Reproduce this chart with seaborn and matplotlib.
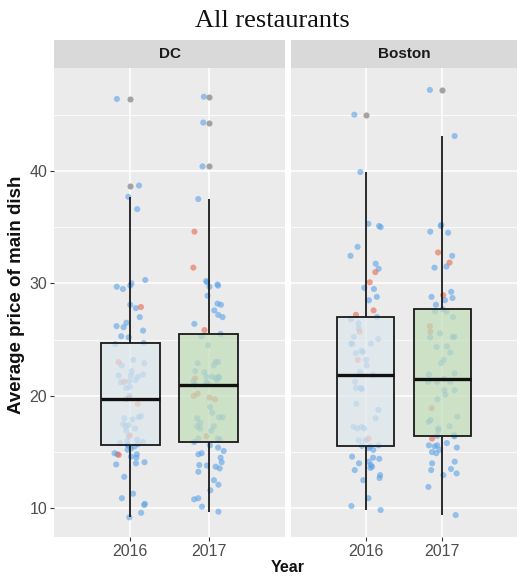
import numpy as np
import pandas as pd
import matplotlib
matplotlib.use("Agg")
import matplotlib.pyplot as plt
from matplotlib.ticker import FixedLocator
import seaborn as sns

# ---------------- data ----------------
cities = ["DC", "Boston"]
years = ["2016", "2017"]
title = "All restaurants"
y_label = "Average price of main dish"
x_label = "Year"
y_ticks = [10, 20, 30, 40]
y_minor = [15, 25, 35, 45]

dc_2016_blue = [46.4, 38.7, 37.7, 36.6, 30.3, 30.0, 29.8, 29.7, 29.5, 28.1, 27.8, 27.0,
                26.5, 26.2, 26.1, 25.8, 25.3, 25.2, 24.7, 24.6, 23.2, 22.9, 22.7, 22.2,
                21.9, 21.8, 21.8, 21.7, 21.4, 21.3, 21.2, 20.8, 20.7, 20.0, 19.7, 18.2,
                18.1, 18.0, 17.9, 17.5, 17.4, 17.3, 17.1, 16.9, 16.4, 16.1, 16.0, 15.9,
                15.8, 15.7, 15.65, 15.6, 15.5, 15.3, 15.2, 14.9, 14.8, 14.8, 14.6, 14.5,
                14.1, 14.0, 13.9, 12.8, 11.3, 10.9, 10.4, 10.3, 9.6, 9.2]
dc_2016_red = [27.9, 23.0, 21.25, 19.8, 19.3, 16.5, 14.75]

dc_2017_blue = [46.6, 44.3, 40.4, 37.5, 30.2, 30.1, 29.9, 29.8, 29.7, 28.9, 28.2, 28.1,
                27.6, 27.2, 27.0, 26.4, 25.5, 25.3, 24.5, 23.0, 23.0, 22.9, 22.7, 22.2,
                22.1, 21.7, 21.7, 21.7, 21.6, 21.6, 21.4, 21.3, 21.2, 21.1, 21.0, 19.0,
                18.5, 18.1, 18.1, 18.0, 17.6, 17.3, 17.3, 17.1, 16.9, 16.2, 16.2, 16.1,
                15.9, 15.6, 15.4, 15.1, 14.9, 14.8, 14.5, 14.1, 13.85, 13.8, 13.7, 13.55,
                13.25, 12.5, 12.1, 11.6, 10.9, 10.8, 10.15, 9.7]
dc_2017_red = [34.6, 31.4, 25.85, 21.55, 20.2, 20.0, 19.85, 19.7, 16.4]

boston_2016_blue = [45.0, 39.9, 35.3, 35.1, 35.0, 33.25, 32.45, 31.75, 31.3, 29.6, 29.5,
                    28.8, 28.5, 27.0, 26.8, 26.45, 26.0, 25.25, 25.05, 24.65, 24.65, 24.6,
                    24.0, 23.9, 23.8, 23.2, 22.7, 22.1, 21.85, 21.25, 20.7, 20.7, 20.6,
                    19.3, 18.75, 18.0, 17.25, 17.25, 17.1, 17.1, 16.05, 16.05, 15.6, 15.55,
                    15.5, 15.35, 15.2, 14.6, 14.5, 14.4, 14.15, 14.0, 13.85, 13.7, 13.6,
                    13.4, 12.95, 12.7, 12.5, 10.9, 10.2, 9.85]
boston_2016_red = [31.0, 30.1, 27.6, 27.2, 25.7, 23.2, 16.2]

boston_2017_blue = [47.2, 43.1, 35.2, 35.1, 34.6, 34.5, 32.45, 31.5, 31.4, 29.25, 28.8,
                    28.7, 28.5, 28.1, 27.7, 27.5, 27.5, 27.0, 25.55, 25.25, 25.25, 25.2,
                    24.4, 24.35, 23.85, 23.2, 22.9, 22.0, 21.9, 21.5, 21.25, 21.25, 21.25,
                    20.5, 20.5, 20.1, 19.7, 18.15, 17.85, 17.7, 17.3, 17.1, 16.95, 16.5,
                    16.45, 16.4, 15.8, 15.6, 15.6, 15.5, 15.4, 15.2, 15.0, 14.9, 14.15,
                    14.0, 13.5, 13.4, 13.1, 12.95, 11.9, 9.4]
boston_2017_red = [32.75, 31.85, 28.95, 26.2, 25.7, 18.9, 16.2]

groups = {
    ("DC", "2016"): (dc_2016_blue, dc_2016_red),
    ("DC", "2017"): (dc_2017_blue, dc_2017_red),
    ("Boston", "2016"): (boston_2016_blue, boston_2016_red),
    ("Boston", "2017"): (boston_2017_blue, boston_2017_red),
}

rows = []
for (city, year), (blue, red) in groups.items():
    rows += [(city, year, v, "blue") for v in blue]
    rows += [(city, year, v, "red") for v in red]
df = pd.DataFrame(rows, columns=["city", "year", "price", "kind"])

# ---------------- styling ----------------
plt.rcParams["font.family"] = ["Liberation Sans", "DejaVu Sans"]

W, H = 519, 584
fig = plt.figure(figsize=(W / 100, H / 100), dpi=100)
fig.patch.set_facecolor("white")


def frac(x0, y0, x1, y1):
    return [x0 / W, 1 - y1 / H, (x1 - x0) / W, (y1 - y0) / H]


panels = {"DC": (54, 285), "Boston": (291, 517)}
top, bottom, strip_top = 68, 537, 40

point_colors = {"blue": "#5AA2E6", "red": "#E8684E"}
box_fills = {"2016": "#DCE8EE", "2017": "#BDE3B3"}

np.random.seed(7)
for i, city in enumerate(cities):
    x0, x1 = panels[city]
    ax = fig.add_axes(frac(x0, top, x1, bottom))
    sub = df[df.city == city]
    sns.stripplot(data=sub, x="year", y="price", hue="kind", order=years,
                  hue_order=["blue", "red"], palette=point_colors, jitter=0.2,
                  size=4.4, alpha=0.6, linewidth=0, legend=False, ax=ax, zorder=1)
    sns.boxplot(data=sub, x="year", y="price", hue="year", order=years,
                hue_order=years, palette=box_fills, dodge=False, width=0.75,
                linewidth=1.3, linecolor="#1a1a1a", whis=1.5, fliersize=4.4,
                flierprops=dict(marker="o", markerfacecolor="#9a9a9a",
                                markeredgecolor="none", alpha=0.9),
                medianprops=dict(color="#111111", linewidth=2.4),
                capprops=dict(linewidth=0), legend=False, ax=ax)
    for p in ax.patches:
        fc = p.get_facecolor()
        p.set_facecolor((fc[0], fc[1], fc[2], 0.7))

    ax.set_xlim(-0.97, 1.97)
    ax.set_ylim(7.45, 49.15)
    ax.set_facecolor("#EBEBEB")
    ax.yaxis.set_major_locator(FixedLocator(y_ticks))
    ax.yaxis.set_minor_locator(FixedLocator(y_minor))
    ax.grid(True, which="major", color="white", linewidth=1.1)
    ax.grid(True, which="minor", axis="y", color="white", linewidth=0.55)
    ax.set_axisbelow(True)
    for s in ax.spines.values():
        s.set_visible(False)
    ax.set_xlabel("")
    ax.set_ylabel("")
    ax.tick_params(axis="both", which="major", length=3, width=0.8, color="#333333",
                   labelcolor="#4D4D4D", labelsize=11.5, pad=2)
    ax.tick_params(axis="y", which="minor", length=0)
    if i == 1:
        ax.tick_params(axis="y", left=False, labelleft=False)

    sax = fig.add_axes(frac(x0, strip_top, x1, top))
    sax.set_facecolor("#D9D9D9")
    sax.set_xticks([])
    sax.set_yticks([])
    for s in sax.spines.values():
        s.set_visible(False)
    sax.text(0.5, 0.5, city, ha="center", va="center", fontweight="bold",
             fontsize=11, color="#1A1A1A", transform=sax.transAxes)

fig.text(272 / W, 1 - 21 / H, title, family=["Liberation Serif", "DejaVu Serif"],
         fontsize=19, ha="center", va="center", color="#111111")
fig.text(17 / W, 1 - 295 / H, y_label, rotation=90, fontweight="bold", fontsize=13.5,
         ha="center", va="center", color="#111111")
fig.text(288 / W, 1 - 567 / H, x_label, fontweight="bold", fontsize=11.5,
         ha="center", va="center", color="#111111")

fig.savefig("out.png", dpi=100)
